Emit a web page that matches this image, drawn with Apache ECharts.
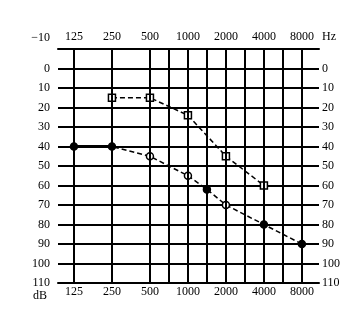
<!DOCTYPE html>
<html>
<head>
<meta charset="UTF-8">
<title>Audiogram</title>
<script src="https://cdn.jsdelivr.net/npm/echarts@6/dist/echarts.min.js"></script>
<style>
  html, body { margin: 0; padding: 0; background: #fff; }
  #chart { width: 364px; height: 336px; }
</style>
</head>
<body>
<div id="chart"></div>
<script>
// frequency labels (Hz), top and bottom
var freqLabels = ['125', '250', '500', '1000', '2000', '4000', '8000'];
// hearing level ticks (dB)
var dbTicks = [-10, 0, 10, 20, 30, 40, 50, 60, 70, 80, 90, 100, 110];
// where each frequency sits on the audiogram, in octaves above 125 Hz
var freqPos = { 125: 0, 250: 1, 500: 2, 750: 2.5, 1000: 3, 1500: 3.5, 2000: 4, 3000: 4.5, 4000: 5, 6000: 5.5, 8000: 6 };
// vertical grid lines
var gridFreqs = [125, 250, 500, 750, 1000, 1500, 2000, 3000, 4000, 6000, 8000];

// curve with circles
var circleFreqs = [125, 250, 500, 1000, 1500, 2000, 4000, 8000];
var circleDb = [40, 40, 45, 55, 62, 70, 80, 90];
// curve with squares
var squareFreqs = [250, 500, 1000, 2000, 4000];
var squareDb = [15, 15, 24, 45, 60];

// which circle marks are drawn filled
var filledCircles = [125, 250, 1500, 4000, 8000];

var font = 'Liberation Serif';
var ink = '#000';

function pts(freqs, dbs) {
  return freqs.map(function (f, i) { return [freqPos[f], dbs[i]]; });
}

var chart = echarts.init(document.getElementById('chart'));

var xBase = {
  type: 'value',
  min: -0.42,
  max: 6.45,
  axisLine: { show: true, onZero: false, lineStyle: { color: ink, width: 2 } },
  axisTick: { show: false },
  splitLine: { show: false },
  axisLabel: {
    customValues: freqLabels.map(function (s) { return freqPos[s]; }),
    formatter: function (v) { return freqLabels[Math.round(v)]; },
    color: ink, fontFamily: font, fontSize: 12, margin: 3
  }
};

var yBase = {
  type: 'value',
  inverse: true,
  min: dbTicks[0],
  max: dbTicks[dbTicks.length - 1],
  interval: 10,
  axisLine: { show: true, lineStyle: { color: ink, width: 2 } },
  axisTick: { show: false }
};

var circleData = pts(circleFreqs, circleDb).map(function (p, i) {
  var solid = filledCircles.indexOf(circleFreqs[i]) >= 0;
  return { value: p, itemStyle: { color: solid ? ink : '#fff' } };
});

chart.setOption({
  animation: false,
  backgroundColor: '#fff',
  grid: { left: 58, right: 45, top: 49, bottom: 53 },
  xAxis: [
    Object.assign({}, xBase, { position: 'bottom' }),
    Object.assign({}, xBase, {
      position: 'top',
      name: 'Hz',
      nameLocation: 'end',
      nameGap: 3,
      nameTextStyle: { color: ink, fontFamily: font, fontSize: 12, verticalAlign: 'bottom', padding: [0, 0, 6, 0] },
      axisLabel: Object.assign({}, xBase.axisLabel, { margin: 6 })
    })
  ],
  yAxis: [
    Object.assign({}, yBase, {
      position: 'left',
      name: 'dB',
      nameLocation: 'end',
      nameGap: 7,
      nameTextStyle: { color: ink, fontFamily: font, fontSize: 12, align: 'right', verticalAlign: 'top', padding: [0, 27, 0, 0] },
      splitLine: { show: true, lineStyle: { color: ink, width: 2 } },
      axisLabel: {
        color: ink, fontFamily: font, fontSize: 12, margin: 8,
        formatter: function (v) { return v === dbTicks[0] ? '{up|\u221210}' : String(v); },
        rich: { up: { fontFamily: font, fontSize: 12, color: ink, padding: [0, 0, 22, 0] } }
      }
    }),
    Object.assign({}, yBase, {
      position: 'right',
      splitLine: { show: false },
      axisLabel: {
        color: ink, fontFamily: font, fontSize: 12, margin: 3,
        formatter: function (v) { return v === dbTicks[0] ? '' : String(v); }
      }
    })
  ],
  series: [
    {
      // vertical grid lines
      type: 'line',
      data: [],
      silent: true,
      markLine: {
        silent: true,
        symbol: 'none',
        label: { show: false },
        lineStyle: { color: ink, width: 2, type: 'solid' },
        data: gridFreqs.map(function (f) { return { xAxis: freqPos[f] }; })
      }
    },
    {
      // solid segment between the first two circles
      type: 'line',
      data: pts(circleFreqs.slice(0, 2), circleDb.slice(0, 2)),
      symbol: 'none',
      lineStyle: { color: ink, width: 3 },
      z: 3
    },
    {
      type: 'line',
      data: circleData,
      symbol: 'circle',
      symbolSize: 7,
      itemStyle: { borderColor: ink, borderWidth: 1.5 },
      lineStyle: { color: ink, width: 1.5, type: [5, 3] },
      z: 4
    },
    {
      type: 'line',
      data: pts(squareFreqs, squareDb),
      symbol: 'rect',
      symbolSize: 7,
      itemStyle: { color: '#fff', borderColor: ink, borderWidth: 1.5 },
      lineStyle: { color: ink, width: 1.5, type: [5, 3] },
      z: 4
    }
  ]
});

window.addEventListener('resize', function () { chart.resize(); });
</script>
</body>
</html>
